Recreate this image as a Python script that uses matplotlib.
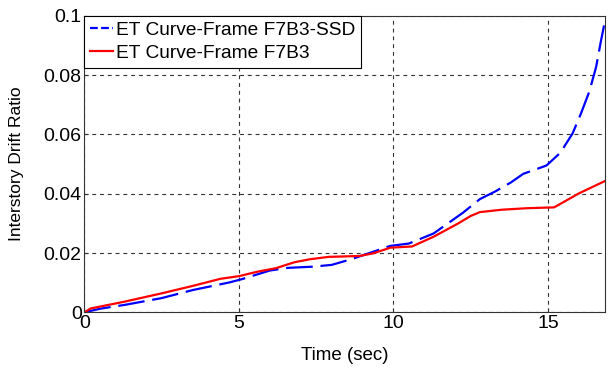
import matplotlib
matplotlib.use("Agg")
import matplotlib.pyplot as plt

plt.rcParams['font.family'] = ['Liberation Sans', 'DejaVu Sans']

# Data
t_ssd = [0, 0.5, 1.3, 2.5, 3.5, 4.7, 5.1, 6.0, 6.6, 7.4, 8.0, 8.6, 9.0, 9.9, 10.5,
         11.3, 12.25, 12.8, 13.3, 13.8, 14.2, 14.95, 15.4, 15.8, 16.07, 16.34,
         16.56, 16.72, 16.85]
idr_ssd = [0, 0.0012, 0.0025, 0.0048, 0.0075, 0.0101, 0.0112, 0.0141, 0.0150,
           0.0154, 0.0160, 0.0178, 0.0192, 0.0224, 0.0232, 0.0266, 0.0336, 0.0382,
           0.0408, 0.0438, 0.0467, 0.0495, 0.0538, 0.0604, 0.0671, 0.0745, 0.0828,
           0.0918, 0.0985]

t_base = [0, 0.2, 1.3, 2.5, 3.5, 4.4, 5.0, 5.6, 6.2, 6.8, 7.3, 7.9, 8.9, 9.35, 9.9,
          10.6, 11.3, 12.1, 12.5, 12.8, 13.5, 14.3, 15.2, 16.0, 16.85]
idr_base = [0, 0.0013, 0.0036, 0.0064, 0.0089, 0.0113, 0.0122, 0.0137, 0.0149,
            0.0169, 0.0179, 0.0187, 0.0190, 0.0199, 0.0218, 0.0222, 0.0255, 0.0300,
            0.0325, 0.0338, 0.0346, 0.0351, 0.0354, 0.0401, 0.0443]

labels = ['ET Curve-Frame F7B3-SSD', 'ET Curve-Frame F7B3']
x_ticks = [0, 5, 10, 15]
y_ticks = [0, 0.02, 0.04, 0.06, 0.08, 0.1]
y_tick_labels = ['0', '0.02', '0.04', '0.06', '0.08', '0.1']

fig = plt.figure(figsize=(6.10, 3.73), dpi=100)
ax = fig.add_axes([0.1385, 0.1627, 0.992 - 0.1385, 0.9576 - 0.1627])

ax.plot(t_ssd, idr_ssd, color='#0000ff', lw=1.6, linestyle=(0, (12, 3.5)), label=labels[0])
ax.plot(t_base, idr_base, color='#ff0000', lw=1.6, label=labels[1])

ax.set_xlim(0, 16.85)
ax.set_ylim(0, 0.1)
ax.set_xticks(x_ticks)
ax.set_yticks(y_ticks)
ax.set_yticklabels(y_tick_labels)
ax.tick_params(direction='in', length=3, labelsize=14, pad=2, color='#333333')
ax.grid(True, color='#333333', linestyle=(0, (3.5, 3.5)), lw=0.8)
for s in ax.spines.values():
    s.set_color('#333333')
    s.set_linewidth(0.8)

ax.set_xlabel('Time (sec)', fontsize=13.5, labelpad=11)
ax.set_ylabel('Interstory Drift Ratio', fontsize=12.5, labelpad=14)

leg = ax.legend(loc='upper left', fontsize=13.8, frameon=True, fancybox=False,
                borderaxespad=0, handlelength=1.2, handletextpad=0.15,
                labelspacing=0.3, borderpad=0.3)
leg.get_frame().set_edgecolor('#000000')
leg.get_frame().set_linewidth(0.8)
leg.get_frame().set_alpha(1)
leg.get_lines()[0].set_linestyle((0, (3.5, 1.5)))

fig.savefig('out.png', dpi=100)
